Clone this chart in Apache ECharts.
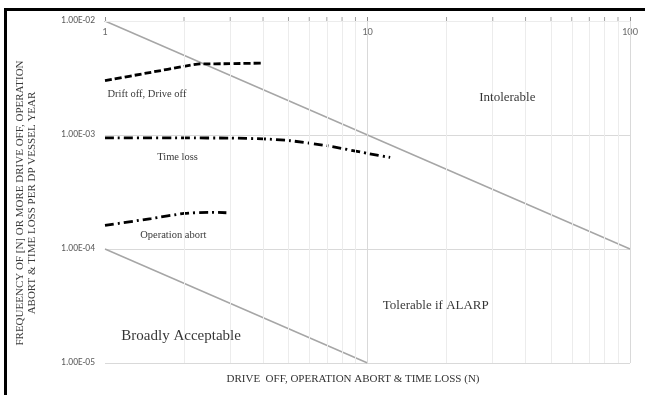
<!DOCTYPE html>
<html><head><meta charset="utf-8">
<script src="https://cdn.jsdelivr.net/npm/echarts@6/dist/echarts.min.js"></script>
<style>html,body{margin:0;padding:0;background:#fff}#c{width:645px;height:395px}</style>
</head><body><div id="c"></div>
<script>
// ---- data ----
const xTickLabels = ['1', '10', '100'];
const yTickLabels = ['1.00E-05', '1.00E-04', '1.00E-03', '1.00E-02'];

const driftN    = [1, 1.5, 2, 2.3, 3, 4];
const driftFreq = [3.0e-3, 3.55e-3, 4.0e-3, 4.2e-3, 4.22e-3, 4.28e-3];

const timeLossN    = [1, 2, 3, 4, 5, 7, 10, 12.2];
const timeLossFreq = [9.45e-4, 9.42e-4, 9.4e-4, 9.25e-4, 8.95e-4, 8.05e-4, 6.9e-4, 6.35e-4];

const abortN    = [1, 1.5, 2, 2.5, 2.9];
const abortFreq = [1.61e-4, 1.85e-4, 2.05e-4, 2.1e-4, 2.08e-4];

const upperLimitN    = [1, 100];
const upperLimitFreq = [1e-2, 1e-4];
const lowerLimitN    = [1, 10];
const lowerLimitFreq = [1e-4, 1e-5];

const regionLabels = ['Intolerable', 'Tolerable if ALARP', 'Broadly Acceptable'];
const curveLabels  = ['Drift off, Drive off', 'Time loss', 'Operation abort'];

// ---- axis helper positions (minor grid) ----
const xMinor = [], yMinor = [];
[1, 10].forEach(d => { for (let k = 2; k <= 9; k++) xMinor.push(k * d); });
[1e-5, 1e-4, 1e-3].forEach(d => { for (let k = 2; k <= 9; k++) yMinor.push(+(k * d).toPrecision(3)); });

// annotation anchors in data space
const regionAnchors = [[34.1, 2.15e-3], [18.2, 3.16e-5], [1.95, 1.73e-5]];
const regionSizes = [13, 13, 15];
const curveAnchors = [[1.445, 2.29e-3], [1.89, 6.41e-4], [1.82, 1.33e-4]];

const pair = (xs, ys) => xs.map((x, i) => [x, ys[i]]);
const serif = '"Liberation Serif", "Times New Roman", serif';

const chart = echarts.init(document.getElementById('c'), null, {renderer: 'canvas'});
chart.setOption({
  animation: false,
  backgroundColor: '#fff',
  grid: {left: 105, right: 15, top: 21, bottom: 32, containLabel: false},
  xAxis: {
    type: 'log', logBase: 10, min: 1, max: 100, position: 'top',
    axisLine: {show: true, lineStyle: {color: '#8c8c8c', width: 1}},
    axisTick: {show: true, inside: false, length: 4, lineStyle: {color: '#8c8c8c'}},
    axisLabel: {inside: true, margin: 6, color: '#6b6b6b', fontSize: 10.5,
      fontFamily: 'Carlito, "Liberation Sans", sans-serif',
      formatter: v => xTickLabels[Math.round(Math.log10(v))]},
    splitLine: {show: false},
    minorTick: {show: false}
  },
  yAxis: {
    type: 'log', logBase: 10, min: 1e-5, max: 1e-2,
    axisLine: {show: false}, axisTick: {show: false},
    axisLabel: {margin: 10, color: '#595959', fontSize: 9.5,
      fontFamily: 'Carlito, "Liberation Sans", sans-serif',
      formatter: v => yTickLabels[Math.round(Math.log10(v)) + 5]},
    splitLine: {show: true, lineStyle: {color: '#d9d9d9', width: 1}}
  },
  series: [
    {
      type: 'line', data: [], silent: true, z: 1,
      markLine: {
        silent: true, symbol: 'none', animation: false, label: {show: false},
        lineStyle: {type: 'solid', width: 1, color: '#ececec'},
        emphasis: {disabled: true},
        data: [
          ...xMinor.map(v => ({xAxis: v})),
          ...yMinor.map(v => ({yAxis: v})),
          {xAxis: 10, lineStyle: {color: '#d9d9d9'}},
          {xAxis: 100, lineStyle: {color: '#d9d9d9'}}
        ]
      }
    },
    {
      type: 'scatter', silent: true, clip: false, z: 4,
      symbol: 'rect', symbolSize: [1, 4], symbolOffset: [0, -2],
      itemStyle: {color: '#8c8c8c'},
      data: xMinor.map(v => [v, 1e-2])
    },
    {type: 'line', data: pair(upperLimitN, upperLimitFreq), showSymbol: false, silent: true, z: 2,
      lineStyle: {color: '#a6a6a6', width: 1.5}},
    {type: 'line', data: pair(lowerLimitN, lowerLimitFreq), showSymbol: false, silent: true, z: 2,
      lineStyle: {color: '#a6a6a6', width: 1.5}},
    {type: 'line', name: curveLabels[0], data: pair(driftN, driftFreq), showSymbol: false, smooth: 0.2, z: 3,
      lineStyle: {color: '#000', width: 2.8, type: [7, 3], cap: 'butt'}},
    {type: 'line', name: curveLabels[1], data: pair(timeLossN, timeLossFreq), showSymbol: false, smooth: 0.2, z: 3,
      lineStyle: {color: '#000', width: 2.8, type: [9, 4, 2, 4], cap: 'butt'}},
    {type: 'line', name: curveLabels[2], data: pair(abortN, abortFreq), showSymbol: false, smooth: 0.2, z: 3,
      lineStyle: {color: '#000', width: 2.8, type: [9, 4, 2, 4], cap: 'butt'}},
    {
      type: 'scatter', silent: true, clip: false, symbolSize: 0, z: 5,
      label: {show: true, position: 'inside', color: '#000', fontFamily: serif, formatter: p => p.name},
      data: [
        ...regionLabels.map((t, i) => ({name: t, value: regionAnchors[i], label: {fontSize: regionSizes[i]}})),
        ...curveLabels.map((t, i) => ({name: t, value: curveAnchors[i], label: {fontSize: 10.5}}))
      ]
    }
  ],
  graphic: [
    {type: 'rect', silent: true, shape: {x: 5.5, y: 9.5, width: 700, height: 500},
      style: {fill: 'none', stroke: '#000', lineWidth: 3}},
    {type: 'text', silent: true, x: 26, y: 203, rotation: Math.PI / 2,
      style: {text: 'FREQUEENCY OF [N] OR MORE DRIVE OFF, OPERATION\nABORT & TIME LOSS PER DP VESSEL YEAR',
        align: 'center', verticalAlign: 'middle', font: '11px ' + serif, lineHeight: 12, fill: '#3a3a3a'}},
    {type: 'text', silent: true, x: 353, y: 379,
      style: {text: 'DRIVE  OFF, OPERATION ABORT & TIME LOSS (N)', align: 'center', verticalAlign: 'middle',
        font: '11px ' + serif, fill: '#333'}}
  ]
});
</script></body></html>
